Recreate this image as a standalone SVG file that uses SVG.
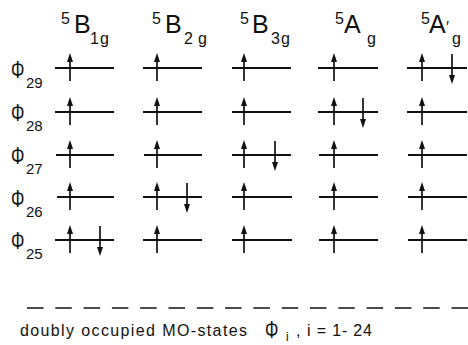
<svg xmlns="http://www.w3.org/2000/svg" width="468" height="345" viewBox="0 0 468 345">
<defs>
<style>
text{font-family:"Liberation Sans","DejaVu Sans",sans-serif;fill:#111}
.lv{stroke:#111;stroke-width:2.2;fill:none}
.sh{stroke:#111;stroke-width:1.7;fill:none}
.hd{fill:#111}
.big{font-size:25px}
.sup{font-size:16px}
.sub{font-size:16px}
.phi{font-size:24px}
.rs{font-size:15px}
.bt{font-size:16px}
</style>
<path id="up" d="M0,-12V13" class="sh"/>
<path id="uph" d="M0,-15L-3,-6L3,-6Z" class="hd"/>
<path id="dn" d="M0,-14V12" class="sh"/>
<path id="dnh" d="M0,16L-3,7L3,7Z" class="hd"/>
</defs>
<rect width="468" height="345" fill="#fff"/>

<g id="headers">
<g id="h1"><text class="sup" x="61" y="24">5</text><text class="big" x="74" y="33">B</text><text class="sub" x="90" y="44">1</text><text class="sub" x="100" y="44">g</text></g>
<g id="h2"><text class="sup" x="152" y="24">5</text><text class="big" x="165" y="33">B</text><text class="sub" x="184" y="44">2</text><text class="sub" x="198" y="44">g</text></g>
<g id="h3"><text class="sup" x="240" y="24">5</text><text class="big" x="252" y="33">B</text><text class="sub" x="271" y="44">3</text><text class="sub" x="281" y="44">g</text></g>
<g id="h4"><text class="sup" x="335" y="24">5</text><text class="big" x="344" y="33">A</text><text class="sub" x="367" y="44">g</text></g>
<g id="h5"><text class="sup" x="421" y="24">5</text><text class="big" x="429" y="33">A</text><text class="sup" x="446" y="33">′</text><text class="sub" x="452" y="44">g</text></g>
</g>

<g id="rowlabels">
<g id="r29"><text class="phi" transform="translate(11,78) scale(0.7,1)">Φ</text><text class="rs" x="26" y="88">29</text></g>
<g id="r28"><text class="phi" transform="translate(11,121) scale(0.7,1)">Φ</text><text class="rs" x="26" y="131">28</text></g>
<g id="r27"><text class="phi" transform="translate(11,164) scale(0.7,1)">Φ</text><text class="rs" x="26" y="174">27</text></g>
<g id="r26"><text class="phi" transform="translate(11,207) scale(0.7,1)">Φ</text><text class="rs" x="26" y="217">26</text></g>
<g id="r25"><text class="phi" transform="translate(11,249) scale(0.7,1)">Φ</text><text class="rs" x="26" y="259">25</text></g>
</g>

<g id="levels">
<path class="lv" d="M55,68H114M55,112H114M56,155H114M57,197H114M55,240H114"/>
<path class="lv" d="M143,68H202M143,112H202M144,155H202M143,197H202M143,240H202"/>
<path class="lv" d="M232,68H291M232,112H291M232,155H291M232,197H292M232,240H292"/>
<path class="lv" d="M318,68H378M318,112H378M319,155H378M319,197H378M319,240H378"/>
<path class="lv" d="M407,68H467M407,112H467M408,155H467M408,197H467M408,240H467"/>
</g>

<g id="spins">
<g id="c1"><use href="#up" x="70" y="68"/><use href="#uph" x="70" y="68"/><use href="#up" x="70" y="112"/><use href="#uph" x="70" y="112"/><use href="#up" x="70" y="155"/><use href="#uph" x="70" y="155"/><use href="#up" x="70" y="197"/><use href="#uph" x="70" y="197"/><use href="#up" x="70" y="240"/><use href="#uph" x="70" y="240"/><use href="#dn" x="100" y="240"/><use href="#dnh" x="100" y="240"/></g>
<g id="c2"><use href="#up" x="157" y="68"/><use href="#uph" x="157" y="68"/><use href="#up" x="157" y="112"/><use href="#uph" x="157" y="112"/><use href="#up" x="157" y="155"/><use href="#uph" x="157" y="155"/><use href="#up" x="157" y="197"/><use href="#uph" x="157" y="197"/><use href="#up" x="157" y="240"/><use href="#uph" x="157" y="240"/><use href="#dn" x="187" y="197"/><use href="#dnh" x="187" y="197"/></g>
<g id="c3"><use href="#up" x="244" y="68"/><use href="#uph" x="244" y="68"/><use href="#up" x="244" y="112"/><use href="#uph" x="244" y="112"/><use href="#up" x="244" y="155"/><use href="#uph" x="244" y="155"/><use href="#up" x="244" y="197"/><use href="#uph" x="244" y="197"/><use href="#up" x="244" y="240"/><use href="#uph" x="244" y="240"/><use href="#dn" x="275" y="155"/><use href="#dnh" x="275" y="155"/></g>
<g id="c4"><use href="#up" x="334" y="68"/><use href="#uph" x="334" y="68"/><use href="#up" x="334" y="112"/><use href="#uph" x="334" y="112"/><use href="#up" x="334" y="155"/><use href="#uph" x="334" y="155"/><use href="#up" x="334" y="197"/><use href="#uph" x="334" y="197"/><use href="#up" x="334" y="240"/><use href="#uph" x="334" y="240"/><use href="#dn" x="363" y="112"/><use href="#dnh" x="363" y="112"/></g>
<g id="c5"><use href="#up" x="422" y="68"/><use href="#uph" x="422" y="68"/><use href="#up" x="422" y="112"/><use href="#uph" x="422" y="112"/><use href="#up" x="422" y="155"/><use href="#uph" x="422" y="155"/><use href="#up" x="422" y="197"/><use href="#uph" x="422" y="197"/><use href="#up" x="422" y="240"/><use href="#uph" x="422" y="240"/><use href="#dn" x="452" y="68"/><use href="#dnh" x="452" y="68"/></g>
</g>

<g id="core">
<path d="M27,308H468" stroke="#111" stroke-width="1.7" stroke-dasharray="16.5 11.8"/>
<text class="bt" x="20" y="336" textLength="227" lengthAdjust="spacing">doubly occupied MO-states</text>
<text class="phi" transform="translate(265,338) scale(0.7,1)" font-size="22">Φ</text>
<text x="286" y="341" font-size="12">i</text>
<text class="bt" x="296" y="336">,</text>
<text class="bt" x="307" y="336" textLength="65" lengthAdjust="spacing">i = 1- 24</text>
</g>
</svg>
